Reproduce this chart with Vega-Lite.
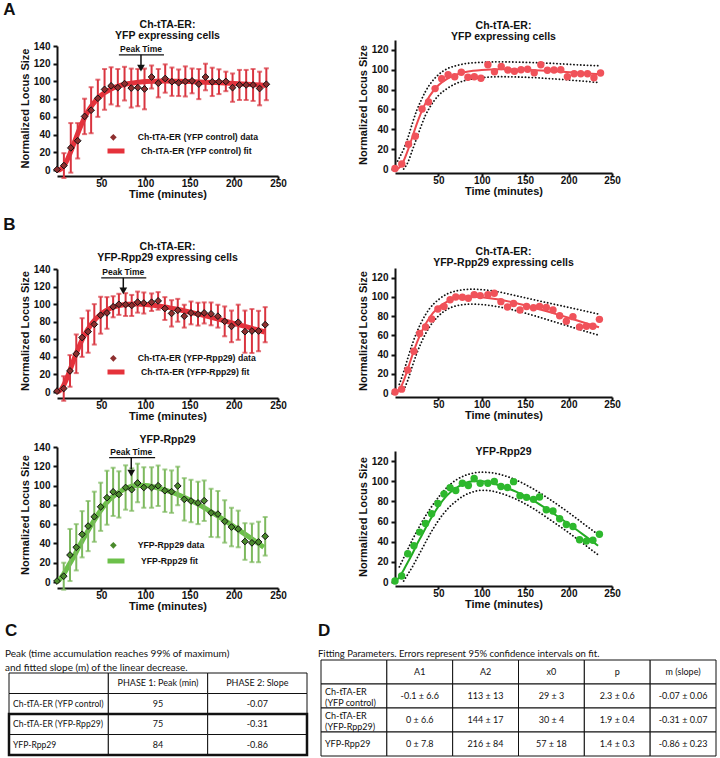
{
"$schema": "https://vega.github.io/schema/vega-lite/v6.json",
"padding": {"left": 3, "top": 0, "right": 2, "bottom": 1},
"background": "white",
"config": {
  "view": {"stroke": null},
  "font": "Liberation Sans",
  "axis": {"labelFont": "Liberation Sans", "labelFontWeight": "bold", "labelFontSize": 10, "labelColor": "#111", "titleFont": "Liberation Sans", "titleFontWeight": "bold", "titleFontSize": 11, "titleColor": "#111", "domainColor": "#111", "domainWidth": 2, "tickColor": "#111", "tickWidth": 2, "grid": false, "labelOverlap": false, "labelBound": false, "labelFlush": false},
  "axisY": {"titlePadding": 3, "tickSize": 4, "labelPadding": 3},
  "axisX": {"titlePadding": 0, "tickSize": 3, "labelPadding": -1},
  "title": {"font": "Liberation Sans", "fontWeight": "bold", "fontSize": 10.5, "color": "#111", "lineHeight": 11, "offset": 3}
},
"datasets": {
  "ptA": [
    {"t":0,"y":0.5,"e":0},{"t":7.8,"y":5,"e":14},{"t":15.6,"y":25,"e":28},{"t":23.4,"y":33,"e":20},{"t":31.2,"y":60.5,"e":20},{"t":38.6,"y":67.5,"e":26},{"t":46.2,"y":81,"e":21},{"t":53.8,"y":91,"e":23},{"t":61.2,"y":95,"e":21},{"t":68.8,"y":93,"e":21},{"t":76.4,"y":97.5,"e":19},{"t":84,"y":92.5,"e":22},{"t":91.4,"y":93,"e":21},{"t":99,"y":91.5,"e":23},{"t":107,"y":105,"e":13},{"t":114.6,"y":98,"e":16},{"t":122.4,"y":103.3,"e":16},{"t":130,"y":99.7,"e":16},{"t":137.6,"y":98.5,"e":15},{"t":145.2,"y":100,"e":17},{"t":152.8,"y":100.6,"e":14},{"t":160.4,"y":97,"e":17},{"t":168,"y":105,"e":15},{"t":175.6,"y":99.5,"e":16},{"t":183.2,"y":99.7,"e":14},{"t":191,"y":100,"e":11},{"t":198.6,"y":93,"e":16},{"t":206.4,"y":96,"e":17},{"t":214,"y":96,"e":17},{"t":221.8,"y":96,"e":18},{"t":229.2,"y":92,"e":19},{"t":236.8,"y":96.8,"e":18}
  ],
  "ptB1": [
    {"t":0,"y":1,"e":0},{"t":7.6,"y":4,"e":14},{"t":14.7,"y":24,"e":18},{"t":21.8,"y":43.5,"e":22},{"t":28.4,"y":62,"e":22},{"t":35.2,"y":68.7,"e":24},{"t":42.2,"y":77,"e":23},{"t":49.4,"y":87.4,"e":21},{"t":56.5,"y":90,"e":18},{"t":63.5,"y":97,"e":12},{"t":70,"y":99.8,"e":12},{"t":77.6,"y":99.5,"e":13},{"t":84.5,"y":98.5,"e":12},{"t":91.2,"y":102.3,"e":12},{"t":98.2,"y":101.3,"e":12},{"t":107,"y":102.2,"e":10},{"t":114.4,"y":103.7,"e":10},{"t":122,"y":95,"e":13},{"t":129.6,"y":89.5,"e":15},{"t":136.6,"y":93,"e":13},{"t":144,"y":86.3,"e":13},{"t":151.6,"y":90,"e":13},{"t":159.5,"y":88.6,"e":13},{"t":166.5,"y":90,"e":12},{"t":174.3,"y":88.9,"e":13},{"t":182,"y":86.3,"e":13},{"t":189.7,"y":80.4,"e":17},{"t":197.4,"y":74.7,"e":18},{"t":205,"y":79.4,"e":20},{"t":212.6,"y":68.7,"e":24},{"t":220.5,"y":69.4,"e":25},{"t":228,"y":69.4,"e":23},{"t":235.5,"y":76.6,"e":20}
  ],
  "ptB2": [
    {"t":0,"y":1,"e":0},{"t":7.6,"y":6,"e":14},{"t":14.7,"y":28,"e":27},{"t":21.8,"y":36,"e":24},{"t":28.4,"y":49.5,"e":24},{"t":35.2,"y":58,"e":26},{"t":42.2,"y":67.7,"e":26},{"t":49.4,"y":78,"e":25},{"t":56.5,"y":87.4,"e":28},{"t":63.5,"y":93.5,"e":25},{"t":70,"y":90.8,"e":24},{"t":77.6,"y":98,"e":23},{"t":84.5,"y":95.8,"e":22},{"t":91.2,"y":102.7,"e":20},{"t":98.2,"y":98,"e":21},{"t":107,"y":98,"e":21},{"t":114.4,"y":99.8,"e":21},{"t":122,"y":94.7,"e":22},{"t":129.6,"y":93.7,"e":22},{"t":136.6,"y":99.6,"e":20},{"t":144,"y":85.7,"e":22},{"t":151.6,"y":84,"e":22},{"t":159.5,"y":82,"e":22},{"t":166.5,"y":84.3,"e":21},{"t":174.3,"y":71.7,"e":25},{"t":182,"y":70.4,"e":24},{"t":189.7,"y":62.8,"e":22},{"t":197.4,"y":57,"e":20},{"t":205,"y":55,"e":19},{"t":212.6,"y":42,"e":19},{"t":220.5,"y":40.6,"e":20},{"t":228,"y":41.5,"e":21},{"t":235.5,"y":47.4,"e":20}
  ],
  "fitA": [
    {"t":0,"y":0,"up":null,"lo":null},{"t":3,"y":0.3,"up":8,"lo":null},{"t":6,"y":2.5,"up":13,"lo":null},{"t":10,"y":8.3,"up":20,"lo":0},{"t":15,"y":19.3,"up":32,"lo":7},{"t":20,"y":32.3,"up":46,"lo":19},{"t":25,"y":45.2,"up":59,"lo":31},{"t":30,"y":56.6,"up":69,"lo":43},{"t":35,"y":66.1,"up":78,"lo":54},{"t":40,"y":73.7,"up":85,"lo":62},{"t":50,"y":84.4,"up":95,"lo":74},{"t":60,"y":90.9,"up":101,"lo":81},{"t":70,"y":94.9,"up":104,"lo":86},{"t":80,"y":97.4,"up":106,"lo":89},{"t":90,"y":98.9,"up":107,"lo":91},{"t":100,"y":99.8,"up":107.5,"lo":92},{"t":120,"y":100.5,"up":108,"lo":93},{"t":150,"y":100,"up":107.5,"lo":92.5},{"t":180,"y":98.7,"up":106.5,"lo":91},{"t":210,"y":97.1,"up":105,"lo":89},{"t":236,"y":95.5,"up":104,"lo":87}
  ],
  "fitB1": [
    {"t":0,"y":0,"up":null,"lo":null},{"t":5,"y":3.1,"up":9,"lo":null},{"t":10,"y":12.8,"up":22,"lo":3},{"t":15,"y":25.8,"up":37,"lo":14},{"t":20,"y":39.4,"up":51,"lo":28},{"t":25,"y":51.9,"up":63,"lo":41},{"t":30,"y":62.7,"up":73,"lo":52},{"t":40,"y":78.8,"up":88,"lo":69},{"t":50,"y":88.9,"up":97,"lo":80},{"t":60,"y":95,"up":103,"lo":87},{"t":70,"y":98.3,"up":106,"lo":90.5},{"t":80,"y":99.9,"up":107.5,"lo":92},{"t":90,"y":100.2,"up":108,"lo":92.5},{"t":100,"y":99.7,"up":107.5,"lo":92},{"t":120,"y":97.2,"up":105,"lo":89.5},{"t":140,"y":93.3,"up":101,"lo":85.5},{"t":160,"y":88.6,"up":97,"lo":80.5},{"t":180,"y":83.6,"up":93,"lo":75},{"t":200,"y":78.2,"up":89,"lo":69.5},{"t":220,"y":72.6,"up":85,"lo":64},{"t":235,"y":68.3,"up":82,"lo":60}
  ],
  "fitB2": [
    {"t":0,"y":0,"up":null,"lo":null},{"t":5,"y":5,"up":15,"lo":null},{"t":10,"y":12,"up":24,"lo":1},{"t":15,"y":20,"up":33,"lo":8},{"t":20,"y":28,"up":42,"lo":15},{"t":25,"y":37,"up":50,"lo":23},{"t":30,"y":45,"up":58,"lo":31},{"t":40,"y":61,"up":72,"lo":47},{"t":50,"y":75,"up":84,"lo":61},{"t":60,"y":86,"up":94,"lo":72},{"t":70,"y":93,"up":101,"lo":80},{"t":80,"y":98,"up":105.5,"lo":86},{"t":90,"y":100,"up":108,"lo":89.5},{"t":100,"y":100,"up":109,"lo":91},{"t":110,"y":98.5,"up":108.5,"lo":90.5},{"t":120,"y":96,"up":107,"lo":88.5},{"t":140,"y":89.5,"up":101,"lo":82},{"t":160,"y":80.5,"up":92,"lo":72.5},{"t":180,"y":69.5,"up":81,"lo":61},{"t":200,"y":57.5,"up":69,"lo":49},{"t":220,"y":45,"up":56,"lo":36},{"t":234,"y":36,"up":47,"lo":27}
  ],
  "peakA": [{"peak": 95}],
  "peakB1": [{"peak": 75}],
  "peakB2": [{"peak": 84}],
  "tblC": [
    {"r":"h","c":"c0","v":""},{"r":"h","c":"c1","v":"PHASE 1: Peak (min)"},{"r":"h","c":"c2","v":"PHASE 2: Slope"},
    {"r":"r1","c":"c0","v":"Ch-tTA-ER (YFP control)"},{"r":"r1","c":"c1","v":"95"},{"r":"r1","c":"c2","v":"-0.07"},
    {"r":"r2","c":"c0","v":"Ch-tTA-ER (YFP-Rpp29)"},{"r":"r2","c":"c1","v":"75"},{"r":"r2","c":"c2","v":"-0.31"},
    {"r":"r3","c":"c0","v":"YFP-Rpp29"},{"r":"r3","c":"c1","v":"84"},{"r":"r3","c":"c2","v":"-0.86"}
  ],
  "tblD": [
    {"r":"h","c":"c0","v":""},{"r":"h","c":"c1","v":"A1"},{"r":"h","c":"c2","v":"A2"},{"r":"h","c":"c3","v":"x0"},{"r":"h","c":"c4","v":"p"},{"r":"h","c":"c5","v":"m (slope)"},
    {"r":"r1","c":"c0","v":"Ch-tTA-ER\n(YFP control)"},{"r":"r1","c":"c1","v":"-0.1 ± 6.6"},{"r":"r1","c":"c2","v":"113 ± 13"},{"r":"r1","c":"c3","v":"29 ± 3"},{"r":"r1","c":"c4","v":"2.3 ± 0.6"},{"r":"r1","c":"c5","v":"-0.07 ± 0.06"},
    {"r":"r2","c":"c0","v":"Ch-tTA-ER\n(YFP-Rpp29)"},{"r":"r2","c":"c1","v":"0 ± 6.6"},{"r":"r2","c":"c2","v":"144 ± 17"},{"r":"r2","c":"c3","v":"30 ± 4"},{"r":"r2","c":"c4","v":"1.9 ± 0.4"},{"r":"r2","c":"c5","v":"-0.31 ± 0.07"},
    {"r":"r3","c":"c0","v":"YFP-Rpp29"},{"r":"r3","c":"c1","v":"0 ± 7.8"},{"r":"r3","c":"c2","v":"216 ± 84"},{"r":"r3","c":"c3","v":"57 ± 18"},{"r":"r3","c":"c4","v":"1.4 ± 0.3"},{"r":"r3","c":"c5","v":"-0.86 ± 0.23"}
  ]
},
"spacing": 11,
"resolve": {"scale": {"color": "independent", "shape": "independent"}, "legend": {"color": "independent", "shape": "independent"}},
"vconcat": [
{
"spacing": 16,
"resolve": {"scale": {"color": "independent", "shape": "independent"}, "legend": {"color": "independent", "shape": "independent"}},
"vconcat": [
  {
    "title": {"text": "A", "fontSize": 17, "anchor": "start", "dx": -16, "offset": 1},
    "spacing": 70,
    "resolve": {"scale": {"color": "independent", "shape": "independent"}, "legend": {"color": "independent", "shape": "independent"}},
    "hconcat": [
      {
        "width": 221, "height": 130,
        "title": {"text": ["Ch-tTA-ER:", "YFP expressing cells"], "offset": -1},
        "layer": [
          {"data": {"name": "fitA"}, "mark": {"type": "line", "color": "#E5323B", "strokeWidth": 5, "interpolate": "monotone"},
           "encoding": {
             "x": {"field": "t", "type": "quantitative", "title": "Time (minutes)", "scale": {"domain": [0, 250], "nice": false}, "axis": {"values": [50, 100, 150, 200, 250], "offset": 6, "labelOverlap": false}},
             "y": {"field": "y", "type": "quantitative", "title": "Normalized Locus Size", "scale": {"domain": [0, 140], "nice": false, "range": [130, 6]}, "axis": {"values": [0, 20, 40, 60, 80, 100, 120, 140], "labelOverlap": false}},
             "color": {"datum": "Ch-tTA-ER (YFP control) fit", "scale": {"range": ["#E5323B"]}, "legend": {"orient": "none", "legendX": 48, "legendY": 100, "title": null, "padding": 0, "symbolType": "stroke", "symbolStrokeWidth": 5, "symbolSize": 289, "labelFont": "Liberation Sans", "labelFontWeight": "bold", "labelFontSize": 8.7, "labelColor": "#111", "labelOffset": 14}}
           }},
          {"data": {"name": "ptA"}, "mark": {"type": "errorbar", "color": "#D9343F", "thickness": 2, "ticks": true},
           "encoding": {"x": {"field": "t", "type": "quantitative", "title": "Time (minutes)", "axis": {"values": [50, 100, 150, 200, 250], "offset": 6, "labelOverlap": false}}, "y": {"field": "y", "type": "quantitative", "title": "Normalized Locus Size", "axis": {"values": [0, 20, 40, 60, 80, 100, 120, 140], "labelOverlap": false}}, "yError": {"field": "e"}}},
          {"data": {"name": "ptA"}, "mark": {"type": "point", "filled": true, "fill": "#8E2F2F", "stroke": "#111", "strokeWidth": 1, "size": 45, "opacity": 1},
           "encoding": {"x": {"field": "t", "type": "quantitative", "title": "Time (minutes)", "axis": {"values": [50, 100, 150, 200, 250], "offset": 6, "labelOverlap": false}}, "y": {"field": "y", "type": "quantitative", "title": "Normalized Locus Size", "axis": {"values": [0, 20, 40, 60, 80, 100, 120, 140], "labelOverlap": false}},
             "shape": {"datum": "Ch-tTA-ER (YFP control) data", "scale": {"range": ["diamond"]}, "legend": {"orient": "none", "legendX": 52, "legendY": 93, "title": null, "padding": 0, "symbolFillColor": "#8E2F2F", "symbolStrokeColor": "#111", "symbolStrokeWidth": 1, "symbolSize": 45, "labelFont": "Liberation Sans", "labelFontWeight": "bold", "labelFontSize": 8.7, "labelColor": "#111", "labelOffset": 20}}}},
          {"data": {"name": "peakA"}, "mark": {"type": "rule", "color": "#111", "strokeWidth": 1.2}, "encoding": {"x": {"datum": 70, "axis": {"values": [50, 100, 150, 200, 250], "offset": 6, "labelOverlap": false}}, "x2": {"datum": 121}, "y": {"datum": 130, "axis": {"values": [0, 20, 40, 60, 80, 100, 120, 140], "labelOverlap": false}}}},
          {"data": {"name": "peakA"}, "mark": {"type": "text", "text": "Peak Time", "fontSize": 8.5, "fontWeight": "bold", "baseline": "bottom", "dy": -1, "color": "#111"}, "encoding": {"x": {"field": "peak", "type": "quantitative", "title": "Time (minutes)", "axis": {"values": [50, 100, 150, 200, 250], "offset": 6, "labelOverlap": false}}, "y": {"datum": 130, "axis": {"values": [0, 20, 40, 60, 80, 100, 120, 140], "labelOverlap": false}}}},
          {"data": {"name": "peakA"}, "mark": {"type": "rule", "color": "#111", "strokeWidth": 1.5}, "encoding": {"x": {"field": "peak", "type": "quantitative", "title": "Time (minutes)", "axis": {"values": [50, 100, 150, 200, 250], "offset": 6, "labelOverlap": false}}, "y": {"datum": 130, "axis": {"values": [0, 20, 40, 60, 80, 100, 120, 140], "labelOverlap": false}}, "y2": {"datum": 118}}},
          {"data": {"name": "peakA"}, "mark": {"type": "point", "shape": "triangle-down", "filled": true, "color": "#111", "size": 60, "opacity": 1}, "encoding": {"x": {"field": "peak", "type": "quantitative", "title": "Time (minutes)", "axis": {"values": [50, 100, 150, 200, 250], "offset": 6, "labelOverlap": false}}, "y": {"datum": 115, "axis": {"values": [0, 20, 40, 60, 80, 100, 120, 140], "labelOverlap": false}}}}
        ]
      },
      {
        "width": 217, "height": 129,
        "title": {"text": ["Ch-tTA-ER:", "YFP expressing cells"], "offset": -2.5},
        "data": {"name": "fitA"},
        "layer": [
          {"mark": {"type": "line", "color": "#111", "strokeWidth": 1.8, "strokeDash": [0.1, 3.3], "strokeCap": "round", "interpolate": "monotone"},
           "encoding": {"x": {"field": "t", "type": "quantitative", "title": "Time (minutes)", "scale": {"domain": [0, 250], "nice": false}, "axis": {"values": [50, 100, 150, 200, 250], "offset": 4, "labelOverlap": false}},
             "y": {"field": "up", "type": "quantitative", "title": "Normalized Locus Size", "scale": {"domain": [0, 130], "nice": false}, "axis": {"values": [0, 20, 40, 60, 80, 100, 120], "labelOverlap": false}}}},
          {"mark": {"type": "line", "color": "#111", "strokeWidth": 1.8, "strokeDash": [0.1, 3.3], "strokeCap": "round", "interpolate": "monotone"},
           "encoding": {"x": {"field": "t", "type": "quantitative", "title": "Time (minutes)", "axis": {"values": [50, 100, 150, 200, 250], "offset": 4, "labelOverlap": false}}, "y": {"field": "lo", "type": "quantitative", "title": "Normalized Locus Size", "axis": {"values": [0, 20, 40, 60, 80, 100, 120], "labelOverlap": false}}}},
          {"mark": {"type": "line", "color": "#EE4A50", "strokeWidth": 2, "interpolate": "monotone"},
           "encoding": {"x": {"field": "t", "type": "quantitative", "title": "Time (minutes)", "axis": {"values": [50, 100, 150, 200, 250], "offset": 4, "labelOverlap": false}}, "y": {"field": "y", "type": "quantitative", "title": "Normalized Locus Size", "axis": {"values": [0, 20, 40, 60, 80, 100, 120], "labelOverlap": false}}}},
          {"data": {"name": "ptA"}, "mark": {"type": "circle", "color": "#F0525A", "size": 55, "opacity": 1},
           "encoding": {"x": {"field": "t", "type": "quantitative", "title": "Time (minutes)", "axis": {"values": [50, 100, 150, 200, 250], "offset": 4, "labelOverlap": false}}, "y": {"field": "y", "type": "quantitative", "title": "Normalized Locus Size", "axis": {"values": [0, 20, 40, 60, 80, 100, 120], "labelOverlap": false}}}}
        ]
      }
    ]
  },
  {
    "title": {"text": "B", "fontSize": 17, "anchor": "start", "dx": -16, "offset": 8},
    "spacing": 13,
    "resolve": {"scale": {"color": "independent", "shape": "independent"}, "legend": {"color": "independent", "shape": "independent"}},
    "vconcat": [
      {
        "spacing": 70,
        "resolve": {"scale": {"color": "independent", "shape": "independent"}, "legend": {"color": "independent", "shape": "independent"}},
        "hconcat": [
          {
            "width": 221, "height": 124,
            "title": {"text": ["Ch-tTA-ER:", "YFP-Rpp29 expressing cells"], "offset": 1},
            "layer": [
              {"data": {"name": "fitB1"}, "mark": {"type": "line", "color": "#E5323B", "strokeWidth": 5, "interpolate": "monotone"},
               "encoding": {
                 "x": {"field": "t", "type": "quantitative", "title": "Time (minutes)", "scale": {"domain": [0, 250], "nice": false}, "axis": {"values": [50, 100, 150, 200, 250], "offset": 6, "labelOverlap": false}},
                 "y": {"field": "y", "type": "quantitative", "title": "Normalized Locus Size", "scale": {"domain": [0, 140], "nice": false, "range": [124, 1]}, "axis": {"values": [0, 20, 40, 60, 80, 100, 120, 140], "labelOverlap": false}},
                 "color": {"datum": "Ch-tTA-ER (YFP-Rpp29) fit", "scale": {"range": ["#E5323B"]}, "legend": {"orient": "none", "legendX": 48, "legendY": 93, "title": null, "padding": 0, "symbolType": "stroke", "symbolStrokeWidth": 5, "symbolSize": 289, "labelFont": "Liberation Sans", "labelFontWeight": "bold", "labelFontSize": 8.7, "labelColor": "#111", "labelOffset": 14}}
               }},
              {"data": {"name": "ptB1"}, "mark": {"type": "errorbar", "color": "#D9343F", "thickness": 2, "ticks": true},
               "encoding": {"x": {"field": "t", "type": "quantitative", "title": "Time (minutes)", "axis": {"values": [50, 100, 150, 200, 250], "offset": 6, "labelOverlap": false}}, "y": {"field": "y", "type": "quantitative", "title": "Normalized Locus Size", "axis": {"values": [0, 20, 40, 60, 80, 100, 120, 140], "labelOverlap": false}}, "yError": {"field": "e"}}},
              {"data": {"name": "ptB1"}, "mark": {"type": "point", "filled": true, "fill": "#8E2F2F", "stroke": "#111", "strokeWidth": 1, "size": 45, "opacity": 1},
               "encoding": {"x": {"field": "t", "type": "quantitative", "title": "Time (minutes)", "axis": {"values": [50, 100, 150, 200, 250], "offset": 6, "labelOverlap": false}}, "y": {"field": "y", "type": "quantitative", "title": "Normalized Locus Size", "axis": {"values": [0, 20, 40, 60, 80, 100, 120, 140], "labelOverlap": false}},
                 "shape": {"datum": "Ch-tTA-ER (YFP-Rpp29) data", "scale": {"range": ["diamond"]}, "legend": {"orient": "none", "legendX": 52, "legendY": 86, "title": null, "padding": 0, "symbolFillColor": "#8E2F2F", "symbolStrokeColor": "#111", "symbolStrokeWidth": 1, "symbolSize": 45, "labelFont": "Liberation Sans", "labelFontWeight": "bold", "labelFontSize": 8.7, "labelColor": "#111", "labelOffset": 20}}}},
              {"data": {"name": "peakB1"}, "mark": {"type": "rule", "color": "#111", "strokeWidth": 1.2}, "encoding": {"x": {"datum": 50, "axis": {"values": [50, 100, 150, 200, 250], "offset": 6, "labelOverlap": false}}, "x2": {"datum": 101}, "y": {"datum": 130, "axis": {"values": [0, 20, 40, 60, 80, 100, 120, 140], "labelOverlap": false}}}},
              {"data": {"name": "peakB1"}, "mark": {"type": "text", "text": "Peak Time", "fontSize": 8.5, "fontWeight": "bold", "baseline": "bottom", "dy": -1, "color": "#111"}, "encoding": {"x": {"field": "peak", "type": "quantitative", "title": "Time (minutes)", "axis": {"values": [50, 100, 150, 200, 250], "offset": 6, "labelOverlap": false}}, "y": {"datum": 130, "axis": {"values": [0, 20, 40, 60, 80, 100, 120, 140], "labelOverlap": false}}}},
              {"data": {"name": "peakB1"}, "mark": {"type": "rule", "color": "#111", "strokeWidth": 1.5}, "encoding": {"x": {"field": "peak", "type": "quantitative", "title": "Time (minutes)", "axis": {"values": [50, 100, 150, 200, 250], "offset": 6, "labelOverlap": false}}, "y": {"datum": 130, "axis": {"values": [0, 20, 40, 60, 80, 100, 120, 140], "labelOverlap": false}}, "y2": {"datum": 118}}},
              {"data": {"name": "peakB1"}, "mark": {"type": "point", "shape": "triangle-down", "filled": true, "color": "#111", "size": 60, "opacity": 1}, "encoding": {"x": {"field": "peak", "type": "quantitative", "title": "Time (minutes)", "axis": {"values": [50, 100, 150, 200, 250], "offset": 6, "labelOverlap": false}}, "y": {"datum": 115, "axis": {"values": [0, 20, 40, 60, 80, 100, 120, 140], "labelOverlap": false}}}}
            ]
          },
          {
            "width": 217, "height": 125,
            "title": {"text": ["Ch-tTA-ER:", "YFP-Rpp29 expressing cells"], "offset": 0},
            "data": {"name": "fitB1"},
            "layer": [
              {"mark": {"type": "line", "color": "#111", "strokeWidth": 1.8, "strokeDash": [0.1, 3.3], "strokeCap": "round", "interpolate": "monotone"},
               "encoding": {"x": {"field": "t", "type": "quantitative", "title": "Time (minutes)", "scale": {"domain": [0, 250], "nice": false}, "axis": {"values": [50, 100, 150, 200, 250], "offset": 4, "labelOverlap": false}},
                 "y": {"field": "up", "type": "quantitative", "title": "Normalized Locus Size", "scale": {"domain": [0, 130], "nice": false}, "axis": {"values": [0, 20, 40, 60, 80, 100, 120], "labelOverlap": false}}}},
              {"mark": {"type": "line", "color": "#111", "strokeWidth": 1.8, "strokeDash": [0.1, 3.3], "strokeCap": "round", "interpolate": "monotone"},
               "encoding": {"x": {"field": "t", "type": "quantitative", "title": "Time (minutes)", "axis": {"values": [50, 100, 150, 200, 250], "offset": 4, "labelOverlap": false}}, "y": {"field": "lo", "type": "quantitative", "title": "Normalized Locus Size", "axis": {"values": [0, 20, 40, 60, 80, 100, 120], "labelOverlap": false}}}},
              {"mark": {"type": "line", "color": "#EE4A50", "strokeWidth": 2, "interpolate": "monotone"},
               "encoding": {"x": {"field": "t", "type": "quantitative", "title": "Time (minutes)", "axis": {"values": [50, 100, 150, 200, 250], "offset": 4, "labelOverlap": false}}, "y": {"field": "y", "type": "quantitative", "title": "Normalized Locus Size", "axis": {"values": [0, 20, 40, 60, 80, 100, 120], "labelOverlap": false}}}},
              {"data": {"name": "ptB1"}, "mark": {"type": "circle", "color": "#F0525A", "size": 55, "opacity": 1},
               "encoding": {"x": {"field": "t", "type": "quantitative", "title": "Time (minutes)", "axis": {"values": [50, 100, 150, 200, 250], "offset": 4, "labelOverlap": false}}, "y": {"field": "y", "type": "quantitative", "title": "Normalized Locus Size", "axis": {"values": [0, 20, 40, 60, 80, 100, 120], "labelOverlap": false}}}}
            ]
          }
        ]
      },
      {
        "spacing": 70,
        "resolve": {"scale": {"color": "independent", "shape": "independent"}, "legend": {"color": "independent", "shape": "independent"}},
        "hconcat": [
          {
            "width": 221, "height": 135,
            "title": {"text": "YFP-Rpp29", "offset": -3},
            "layer": [
              {"data": {"name": "fitB2"}, "mark": {"type": "line", "color": "#6CC04A", "strokeWidth": 5, "interpolate": "monotone"},
               "encoding": {
                 "x": {"field": "t", "type": "quantitative", "title": "Time (minutes)", "scale": {"domain": [0, 250], "nice": false}, "axis": {"values": [50, 100, 150, 200, 250], "offset": 6, "labelOverlap": false}},
                 "y": {"field": "y", "type": "quantitative", "title": "Normalized Locus Size", "scale": {"domain": [0, 140], "nice": false}, "axis": {"values": [0, 20, 40, 60, 80, 100, 120, 140], "labelOverlap": false}},
                 "color": {"datum": "YFP-Rpp29 fit", "scale": {"range": ["#6CC04A"]}, "legend": {"orient": "none", "legendX": 48, "legendY": 103, "title": null, "padding": 0, "symbolType": "stroke", "symbolStrokeWidth": 5, "symbolSize": 289, "labelFont": "Liberation Sans", "labelFontWeight": "bold", "labelFontSize": 8.7, "labelColor": "#111", "labelOffset": 14}}
               }},
              {"data": {"name": "ptB2"}, "mark": {"type": "errorbar", "color": "#7DB95E", "thickness": 2, "ticks": true},
               "encoding": {"x": {"field": "t", "type": "quantitative", "title": "Time (minutes)", "axis": {"values": [50, 100, 150, 200, 250], "offset": 6, "labelOverlap": false}}, "y": {"field": "y", "type": "quantitative", "title": "Normalized Locus Size", "axis": {"values": [0, 20, 40, 60, 80, 100, 120, 140], "labelOverlap": false}}, "yError": {"field": "e"}}},
              {"data": {"name": "ptB2"}, "mark": {"type": "point", "filled": true, "fill": "#4A8A2C", "stroke": "#111", "strokeWidth": 1, "size": 45, "opacity": 1},
               "encoding": {"x": {"field": "t", "type": "quantitative", "title": "Time (minutes)", "axis": {"values": [50, 100, 150, 200, 250], "offset": 6, "labelOverlap": false}}, "y": {"field": "y", "type": "quantitative", "title": "Normalized Locus Size", "axis": {"values": [0, 20, 40, 60, 80, 100, 120, 140], "labelOverlap": false}},
                 "shape": {"datum": "YFP-Rpp29 data", "scale": {"range": ["diamond"]}, "legend": {"orient": "none", "legendX": 52, "legendY": 94, "title": null, "padding": 0, "symbolFillColor": "#4A8A2C", "symbolStrokeColor": "#111", "symbolStrokeWidth": 1, "symbolSize": 45, "labelFont": "Liberation Sans", "labelFontWeight": "bold", "labelFontSize": 8.7, "labelColor": "#111", "labelOffset": 20}}}},
              {"data": {"name": "peakB2"}, "mark": {"type": "rule", "color": "#111", "strokeWidth": 1.2}, "encoding": {"x": {"datum": 59, "axis": {"values": [50, 100, 150, 200, 250], "offset": 6, "labelOverlap": false}}, "x2": {"datum": 111}, "y": {"datum": 129, "axis": {"values": [0, 20, 40, 60, 80, 100, 120, 140], "labelOverlap": false}}}},
              {"data": {"name": "peakB2"}, "mark": {"type": "text", "text": "Peak Time", "fontSize": 8.5, "fontWeight": "bold", "baseline": "bottom", "dy": -1, "color": "#111"}, "encoding": {"x": {"field": "peak", "type": "quantitative", "title": "Time (minutes)", "axis": {"values": [50, 100, 150, 200, 250], "offset": 6, "labelOverlap": false}}, "y": {"datum": 129, "axis": {"values": [0, 20, 40, 60, 80, 100, 120, 140], "labelOverlap": false}}}},
              {"data": {"name": "peakB2"}, "mark": {"type": "rule", "color": "#111", "strokeWidth": 1.5}, "encoding": {"x": {"field": "peak", "type": "quantitative", "title": "Time (minutes)", "axis": {"values": [50, 100, 150, 200, 250], "offset": 6, "labelOverlap": false}}, "y": {"datum": 129, "axis": {"values": [0, 20, 40, 60, 80, 100, 120, 140], "labelOverlap": false}}, "y2": {"datum": 117}}},
              {"data": {"name": "peakB2"}, "mark": {"type": "point", "shape": "triangle-down", "filled": true, "color": "#111", "size": 60, "opacity": 1}, "encoding": {"x": {"field": "peak", "type": "quantitative", "title": "Time (minutes)", "axis": {"values": [50, 100, 150, 200, 250], "offset": 6, "labelOverlap": false}}, "y": {"datum": 113, "axis": {"values": [0, 20, 40, 60, 80, 100, 120, 140], "labelOverlap": false}}}}
            ]
          },
          {
            "width": 217, "height": 135,
            "title": {"text": "YFP-Rpp29", "offset": -10},
            "data": {"name": "fitB2"},
            "layer": [
              {"mark": {"type": "line", "color": "#111", "strokeWidth": 1.8, "strokeDash": [0.1, 3.3], "strokeCap": "round", "interpolate": "monotone"},
               "encoding": {"x": {"field": "t", "type": "quantitative", "title": "Time (minutes)", "scale": {"domain": [0, 250], "nice": false}, "axis": {"values": [50, 100, 150, 200, 250], "offset": 4, "labelOverlap": false}},
                 "y": {"field": "up", "type": "quantitative", "title": "Normalized Locus Size", "scale": {"domain": [0, 130], "nice": false, "range": [135, 4]}, "axis": {"values": [0, 20, 40, 60, 80, 100, 120], "labelOverlap": false}}}},
              {"mark": {"type": "line", "color": "#111", "strokeWidth": 1.8, "strokeDash": [0.1, 3.3], "strokeCap": "round", "interpolate": "monotone"},
               "encoding": {"x": {"field": "t", "type": "quantitative", "title": "Time (minutes)", "axis": {"values": [50, 100, 150, 200, 250], "offset": 4, "labelOverlap": false}}, "y": {"field": "lo", "type": "quantitative", "title": "Normalized Locus Size", "axis": {"values": [0, 20, 40, 60, 80, 100, 120], "labelOverlap": false}}}},
              {"mark": {"type": "line", "color": "#22AA22", "strokeWidth": 2, "interpolate": "monotone"},
               "encoding": {"x": {"field": "t", "type": "quantitative", "title": "Time (minutes)", "axis": {"values": [50, 100, 150, 200, 250], "offset": 4, "labelOverlap": false}}, "y": {"field": "y", "type": "quantitative", "title": "Normalized Locus Size", "axis": {"values": [0, 20, 40, 60, 80, 100, 120], "labelOverlap": false}}}},
              {"data": {"name": "ptB2"}, "mark": {"type": "circle", "color": "#2DB82D", "size": 55, "opacity": 1},
               "encoding": {"x": {"field": "t", "type": "quantitative", "title": "Time (minutes)", "axis": {"values": [50, 100, 150, 200, 250], "offset": 4, "labelOverlap": false}}, "y": {"field": "y", "type": "quantitative", "title": "Normalized Locus Size", "axis": {"values": [0, 20, 40, 60, 80, 100, 120], "labelOverlap": false}}}}
            ]
          }
        ]
      }
    ]
  }
]
},
{
  "spacing": 9,
  "align": "none",
  "hconcat": [
    {
      "width": 250, "height": 95,
      "title": {"text": "C", "frame": "group", "subtitle": ["Peak (time accumulation reaches 99% of maximum)", "and fitted slope (m) of the linear decrease."], "anchor": "start", "fontSize": 17, "dx": -52, "offset": -14, "subtitleFont": "Lato", "subtitleFontSize": 10, "subtitleFontWeight": "normal", "subtitleColor": "#111", "subtitleLineHeight": 14, "subtitlePadding": 9},
      "data": {"name": "tblC"},
      "layer": [
        {"mark": {"type": "rect", "fill": "white", "stroke": "#111", "strokeWidth": 1},
         "encoding": {"x": {"field": "c", "type": "nominal", "axis": null, "scale": {"domain": ["c0", "c1", "c2"], "range": [-48, 250], "paddingInner": 0, "paddingOuter": 0}},
                      "y": {"field": "r", "type": "nominal", "axis": null, "scale": {"domain": ["h", "r1", "r2", "r3"], "range": [13, 95], "paddingInner": 0, "paddingOuter": 0}}}},
        {"transform": [{"filter": "datum.c != 'c0'"}], "mark": {"type": "text", "font": "Lato", "fontSize": 9, "color": "#111"},
         "encoding": {"x": {"field": "c", "type": "nominal"}, "y": {"field": "r", "type": "nominal"}, "text": {"field": "v"}}},
        {"transform": [{"filter": "datum.c == 'c0'"}], "mark": {"type": "text", "font": "Lato", "fontSize": 8.6, "color": "#111", "align": "left", "dx": 4},
         "encoding": {"x": {"field": "c", "type": "nominal", "bandPosition": 0}, "y": {"field": "r", "type": "nominal"}, "text": {"field": "v"}}},
        {"transform": [{"filter": "datum.c == 'c0' && datum.r == 'r2'"}], "mark": {"type": "rect", "filled": false, "stroke": "#111", "strokeWidth": 2.5},
         "encoding": {"y": {"datum": "r2", "bandPosition": 0}, "y2": {"datum": "r3", "bandPosition": 1}, "x": {"datum": "c0", "bandPosition": 0}, "x2": {"datum": "c2", "bandPosition": 1}}}
      ]
    },
    {
      "width": 395, "height": 96,
      "title": {"text": "D", "frame": "group", "subtitle": "Fitting Parameters.  Errors represent 95% confidence intervals on fit.", "anchor": "start", "fontSize": 17, "dx": -3, "offset": 0, "subtitleFont": "Lato", "subtitleFontSize": 9.5, "subtitleFontWeight": "normal", "subtitleColor": "#111", "subtitleLineHeight": 13, "subtitlePadding": 9},
      "data": {"name": "tblD"},
      "layer": [
        {"mark": {"type": "rect", "fill": "white", "stroke": "#111", "strokeWidth": 1},
         "encoding": {"x": {"field": "c", "type": "nominal", "axis": null, "scale": {"domain": ["c0", "c1", "c2", "c3", "c4", "c5"], "paddingInner": 0, "paddingOuter": 0}},
                      "y": {"field": "r", "type": "nominal", "axis": null, "scale": {"domain": ["h", "r1", "r2", "r3"], "paddingInner": 0, "paddingOuter": 0}}}},
        {"transform": [{"filter": "datum.c != 'c0'"}], "mark": {"type": "text", "font": "Lato", "fontSize": 9, "color": "#111"},
         "encoding": {"x": {"field": "c", "type": "nominal"}, "y": {"field": "r", "type": "nominal"}, "text": {"field": "v"}}},
        {"transform": [{"filter": "datum.c == 'c0' && (datum.r == 'r1' || datum.r == 'r2')"}], "mark": {"type": "text", "font": "Lato", "fontSize": 9, "color": "#111", "align": "left", "dx": 4, "dy": -4, "lineBreak": "\n", "lineHeight": 10.5},
         "encoding": {"x": {"field": "c", "type": "nominal", "bandPosition": 0}, "y": {"field": "r", "type": "nominal"}, "text": {"field": "v"}}},
        {"transform": [{"filter": "datum.c == 'c0' && datum.r == 'r3'"}], "mark": {"type": "text", "font": "Lato", "fontSize": 9, "color": "#111", "align": "left", "dx": 4},
         "encoding": {"x": {"field": "c", "type": "nominal", "bandPosition": 0}, "y": {"field": "r", "type": "nominal"}, "text": {"field": "v"}}}
      ]
    }
  ]
}
]
}
